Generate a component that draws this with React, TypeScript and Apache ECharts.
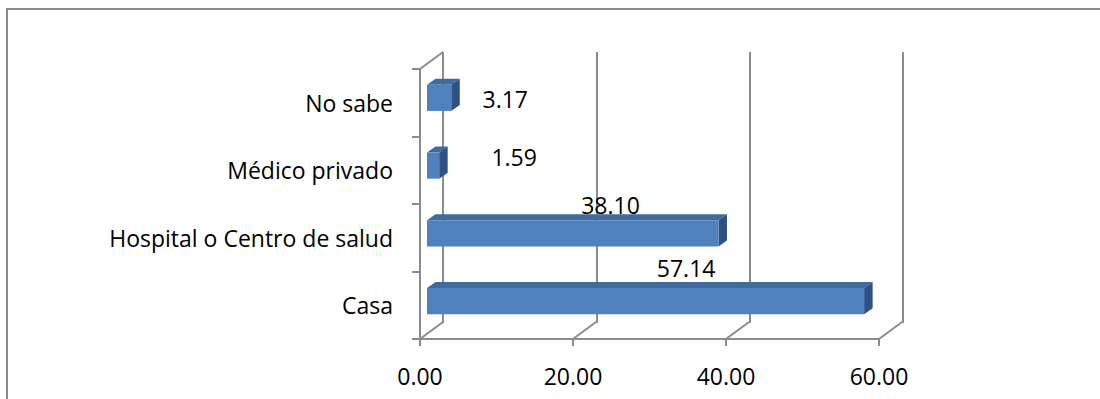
import React, { useEffect, useRef } from "react";
import * as echarts from "echarts";

const categories = ["Casa", "Hospital o Centro de salud", "Médico privado", "No sabe"];
const values = [57.14, 38.1, 1.59, 3.17];
const xTicks = [0, 20, 40, 60];
// label offsets (px) from the bar's right end / vertical centre
const labelOffsets = [
  [-178, -33],
  [-108, -28],
  [75, -9],
  [54, 1.5],
];

const FONT = "'Open Sans', sans-serif";
const LINE = "#8c8c8c";
const DEPTH_X = 23;
const DEPTH_Y = -17;
const BAR_DX = 8.5;
const BAR_DY = -6;

export default function App() {
  const ref = useRef<HTMLDivElement>(null);
  useEffect(() => {
    if (!ref.current) return;
    const chart = echarts.init(ref.current, undefined, { renderer: "svg" });
    const option: any = {
      animation: false,
      backgroundColor: "#ffffff",
      grid: [
        { left: 420, top: 69, width: 459, height: 270 },
        { left: 443, top: 52, width: 460, height: 271 },
        { left: 427, top: 64, width: 459, height: 271 },
      ],
      xAxis: [
        {
          gridIndex: 0,
          type: "value",
          min: 0,
          max: 60,
          interval: 20,
          axisLine: { show: true, lineStyle: { color: LINE, width: 2 } },
          axisTick: { show: true, length: 7, lineStyle: { color: LINE, width: 2 } },
          splitLine: { show: false },
          axisLabel: {
            color: "#000",
            fontFamily: FONT,
            fontSize: 23,
            lineHeight: 28,
            margin: 23,
            formatter: (v: number) => v.toFixed(2),
          },
        },
        {
          gridIndex: 1,
          type: "value",
          min: 0,
          max: 60,
          interval: 20,
          axisLine: { show: false },
          axisTick: { show: false },
          axisLabel: { show: false },
          splitLine: { show: true, lineStyle: { color: LINE, width: 2 } },
        },
        {
          gridIndex: 2,
          type: "value",
          min: 0,
          max: 60,
          show: false,
        },
      ],
      yAxis: [
        {
          gridIndex: 0,
          type: "category",
          data: categories,
          axisLine: { show: true, lineStyle: { color: LINE, width: 2 } },
          axisTick: { show: true, length: 8, lineStyle: { color: LINE, width: 2 } },
          axisLabel: {
            color: "#000",
            fontFamily: FONT,
            fontSize: 23,
            margin: 27,
          },
          splitLine: { show: false },
        },
        {
          gridIndex: 1,
          type: "category",
          data: categories,
          show: false,
        },
        {
          gridIndex: 2,
          type: "category",
          data: categories,
          show: false,
        },
      ],
      series: [
        {
          type: "custom",
          xAxisIndex: 0,
          yAxisIndex: 0,
          silent: true,
          data: xTicks.map((t) => [t]),
          renderItem: (params: any, api: any) => {
            const cs = params.coordSys;
            const x = api.coord([api.value(0), 0])[0];
            const yb = cs.y + cs.height;
            const children: any[] = [
              {
                type: "line",
                shape: { x1: x, y1: yb, x2: x + DEPTH_X, y2: yb + DEPTH_Y },
                style: { stroke: LINE, lineWidth: 2 },
              },
            ];
            if (params.dataIndex === 0) {
              children.push({
                type: "line",
                shape: { x1: cs.x, y1: cs.y, x2: cs.x + DEPTH_X, y2: cs.y + DEPTH_Y },
                style: { stroke: LINE, lineWidth: 2 },
              });
            }
            return { type: "group", children };
          },
          z: 1,
        },
        {
          type: "custom",
          xAxisIndex: 2,
          yAxisIndex: 2,
          data: values.map((v, i) => [v, i]),
          renderItem: (params: any, api: any) => {
            const i = params.dataIndex;
            const v = api.value(0);
            const p0 = api.coord([0, api.value(1)]);
            const p1 = api.coord([v, api.value(1)]);
            const band = api.size([0, 1])[1];
            const h = band * 0.385;
            const x0 = p0[0];
            const x1 = p1[0];
            const yT = p0[1] - h / 2;
            const yB = p0[1] + h / 2;
            const off = labelOffsets[i];
            return {
              type: "group",
              children: [
                {
                  type: "polygon",
                  shape: {
                    points: [
                      [x0, yT],
                      [x1, yT],
                      [x1 + BAR_DX, yT + BAR_DY],
                      [x0 + BAR_DX, yT + BAR_DY],
                    ],
                  },
                  style: { fill: "#3f6b9f" },
                },
                {
                  type: "polygon",
                  shape: {
                    points: [
                      [x1, yT],
                      [x1 + BAR_DX, yT + BAR_DY],
                      [x1 + BAR_DX, yB + BAR_DY],
                      [x1, yB],
                    ],
                  },
                  style: { fill: "#2d5181" },
                },
                {
                  type: "rect",
                  shape: { x: x0, y: yT, width: x1 - x0, height: h },
                  style: { fill: "#4f81bd" },
                },
                {
                  type: "text",
                  x: x1 + off[0],
                  y: p0[1] + off[1],
                  style: {
                    text: v.toFixed(2),
                    fill: "#000",
                    font: `23px ${FONT}`,
                    align: "center",
                    verticalAlign: "middle",
                  },
                },
              ],
            };
          },
          z: 3,
        },
      ],
      graphic: [
        {
          type: "rect",
          shape: { x: 7, y: 9, width: 1200, height: 500 },
          style: { fill: "none", stroke: LINE, lineWidth: 2 },
          silent: true,
        },
      ],
    };
    chart.setOption(option);
    return () => chart.dispose();
  }, []);
  return (
    <div
      ref={ref}
      style={{ position: "fixed", left: 0, top: 0, width: 1100, height: 399, background: "#fff" }}
    />
  );
}
